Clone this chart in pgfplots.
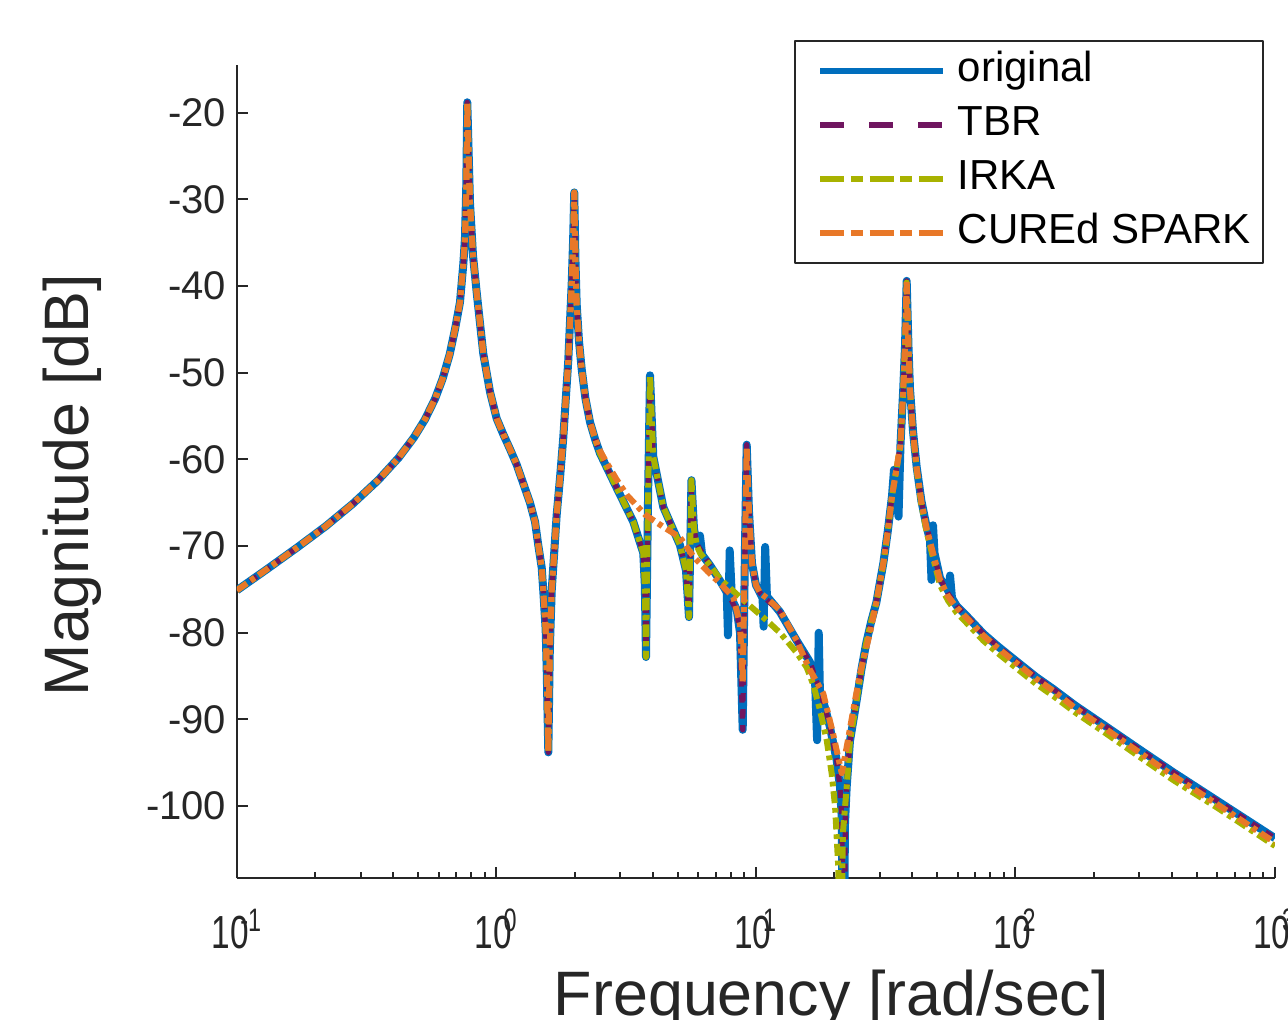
\documentclass[border=0pt]{standalone}
\usepackage{pgfplots}
\pgfplotsset{compat=1.18}
\usepackage{fontspec}
\setmainfont{Liberation Sans}
\usepackage{graphicx}
\definecolor{cOrig}{RGB}{0,110,189}
\definecolor{cTBR}{RGB}{112,22,96}
\definecolor{cIRKA}{RGB}{168,178,0}
\definecolor{cSPARK}{RGB}{232,120,40}
\definecolor{axgray}{RGB}{38,38,38}
\newcommand{\xl}[1]{\scalebox{0.72}[1]{10\kern-0.25em\textsuperscript{#1}}}
\begin{document}
\begin{tikzpicture}
\begin{axis}[
 scale only axis, width=259.5pt, height=203.25pt,
 xmode=log, xmin=0.1, xmax=1000, ymin=-108.3, ymax=-14.5,
 axis x line*=bottom, axis y line*=left,
 axis line style={axgray, line width=0.5pt},
 tick align=inside,
 major tick length=2.75pt, minor tick length=1.4pt,
 every tick/.style={axgray, line width=0.5pt},
 xtick={0.1,1,10,100,1000},
 xticklabels={\xl{-1},\xl{0},\xl{1},\xl{2},\xl{3}},
 ytick={-100,-90,-80,-70,-60,-50,-40,-30,-20},
 /pgf/number format/assume math mode=true,
 yticklabel style={font=\fontsize{10}{12}\selectfont, text=axgray, inner sep=0pt, xshift=-2.5pt},
 xticklabel style={font=\fontsize{11.6}{13}\selectfont, text=axgray, inner sep=0pt, yshift=-7.5pt},
 xlabel={Frequency [rad/sec]}, ylabel={Magnitude [dB]},
 xlabel style={at={(rel axis cs:0.5727,-0.1697)}, anchor=base, font=\fontsize{15.7}{18}\selectfont, text=axgray, inner sep=0pt},
 ylabel style={at={(rel axis cs:-0.159,0.4834)}, anchor=center, font=\fontsize{15.7}{18}\selectfont, text=axgray, inner sep=0pt},
 legend style={at={(rel axis cs:0.9894,1.0308)}, anchor=north east, draw=axgray, line width=0.5pt, fill=white,
   font=\fontsize{10.5}{12}\selectfont, inner xsep=3pt, inner ysep=2.6pt, row sep=3.7pt,
   nodes={inner sep=0pt, text height=7.6pt, text depth=2.2pt}},
 legend cell align=left,
 legend image code/.code={\path (1.4pt,0pt); \draw[#1] (4pt,0pt) -- (34.75pt,0pt); \path (37.5pt,0pt);},
 line join=round,
]
\addplot[forget plot, cOrig, line width=2pt] coordinates {
(0.1,-75.1) (0.13,-72.7) (0.17,-70.2) (0.22,-67.7) (0.28,-65.1) (0.35,-62.4) (0.42,-59.8) (0.48,-57.5) (0.53,-55.4) (0.58,-53.0) (0.62,-50.7) (0.66,-47.9) (0.692,-45.0) (0.7232,-41.9) (0.745,-37.5) (0.7561,-34.5) (0.765,-28.5) (0.7718,-18.8) (0.7905,-30.4) (0.812,-36.5) (0.8387,-40.7) (0.8894,-47.8) (0.9441,-52.2) (1.002,-55.3) (1.062,-57.1) (1.127,-58.8) (1.196,-60.6) (1.269,-62.8) (1.346,-65.0) (1.408,-67.2) (1.449,-69.9) (1.494,-72.5) (1.515,-75.2) (1.547,-79.6) (1.561,-84.0) (1.584,-93.8) (1.605,-82.0) (1.632,-75.2) (1.706,-66.4) (1.76,-61.9) (1.809,-57.5) (1.891,-48.6) (1.949,-39.8) (1.975,-34.5) (1.994,-29.2) (2.015,-37.0) (2.037,-42.1) (2.08,-46.4) (2.130,-49.6) (2.2,-52.9) (2.293,-55.7) (2.4,-57.7) (2.505,-59.3)
(2.906,-63.3) (3.367,-67.2) (3.679,-70.8) (3.73,-74.5) (3.769,-82.8) (3.836,-65.0) (3.905,-50.3) (4.020,-59.7) (4.393,-65.5) (5.095,-69.9) (5.374,-72.8) (5.518,-78.2) (5.641,-62.4) (5.768,-68.0) (5.925,-69.8) (6.084,-68.8) (6.20,-71.0) (6.647,-72.2) (7.265,-74.0) (7.712,-75.3) (7.80,-80.3) (7.92,-70.5) (8.082,-76.2) (8.425,-77.3) (8.678,-80.0) (8.888,-91.2) (9.071,-70) (9.209,-58.3) (9.397,-66) (9.652,-72.0) (10.0,-74.5) (10.36,-75.4) (10.60,-76.0) (10.70,-79.3) (10.85,-70.1) (11.02,-75.8) (12.37,-77.6) (14.35,-80.9) (16.15,-83.4) (16.88,-85.3) (17.20,-92.4) (17.45,-80.0) (17.64,-87.0) (18.12,-87.8) (18.73,-89.4) (19.28,-90.9) (20.46,-94.7) (21.07,-97.8) (21.40,-101.3) (21.70,-125) (22.03,-102) (22.36,-97.8) (23.02,-92.5) (24.43,-87.8) (25.5,-84.2) (26.6,-81.2) (27.8,-78.7) (29.1,-76.5) (30.95,-72.0) (32.2,-68.3) (33.44,-64.2) (34.03,-61.2) (35.42,-66.6) (36.05,-58.3) (36.95,-51.8) (37.52,-47) (38.08,-39.4) (38.70,-47) (39.21,-51.8) (40.3,-56.8) (41.62,-60.9) (43.4,-64.8) (45.48,-67.8) (46.83,-69.3) (47.46,-73.9) (48.10,-67.6) (48.74,-70.8) (51.19,-73.7) (55.44,-75.3) (55.94,-73.4) (56.93,-76.0) (57.70,-76.3) (59.35,-76.9) (65,-78.1) (75.12,-80.1) (85,-81.5) (98.06,-83.0) (120,-85.1) (139.9,-86.5) (170,-88.4) (217.9,-90.6) (300,-93.45) (405.6,-96.1) (600,-99.4) (1000,-103.7)
};
\addplot[forget plot, cTBR, line width=1.3pt, dash pattern=on 2pt off 2pt] coordinates {
(0.1,-75.1) (0.13,-72.7) (0.17,-70.2) (0.22,-67.7) (0.28,-65.1) (0.35,-62.4) (0.42,-59.8) (0.48,-57.5) (0.53,-55.4) (0.58,-53.0) (0.62,-50.7) (0.66,-47.9) (0.692,-45.0) (0.7232,-41.9) (0.745,-37.5) (0.7561,-34.5) (0.765,-28.5) (0.7718,-18.8) (0.7905,-30.4) (0.812,-36.5) (0.8387,-40.7) (0.8894,-47.8) (0.9441,-52.2) (1.002,-55.3) (1.062,-57.1) (1.127,-58.8) (1.196,-60.6) (1.269,-62.8) (1.346,-65.0) (1.408,-67.2) (1.449,-69.9) (1.494,-72.5) (1.515,-75.2) (1.547,-79.6) (1.561,-84.0) (1.584,-93.8) (1.605,-82.0) (1.632,-75.2) (1.706,-66.4) (1.76,-61.9) (1.809,-57.5) (1.891,-48.6) (1.949,-39.8) (1.975,-34.5) (1.994,-29.2) (2.015,-37.0) (2.037,-42.1) (2.08,-46.4) (2.130,-49.6) (2.2,-52.9) (2.293,-55.7) (2.4,-57.7) (2.505,-59.3)
(2.906,-63.3) (3.367,-67.2) (3.679,-70.8) (3.73,-74.5) (3.769,-82.8) (3.836,-65.0) (3.905,-50.3) (4.020,-59.7) (4.393,-65.5) (5.095,-69.9) (5.374,-72.8) (5.518,-78.2) (5.641,-62.4) (5.768,-68.0) (5.925,-69.8) (6.647,-72.2) (7.265,-74.0) (7.712,-75.3) (8.082,-76.4) (8.425,-77.5) (8.678,-80.0) (8.888,-91.2) (9.071,-70) (9.209,-58.3) (9.397,-66) (9.652,-72.0) (10.0,-74.5) (10.36,-75.4) (11.02,-76.2) (12.37,-77.6) (14.35,-80.9) (16.15,-83.4) (17.64,-86.7) (18.73,-89.4) (19.28,-90.9) (20.46,-94.7) (21.07,-97.8) (21.40,-101.3) (21.80,-125) (22.10,-101) (22.36,-97.8) (23.02,-92.5) (24.43,-87.8) (25.5,-84.2) (26.6,-81.2) (27.8,-78.7) (29.1,-76.5) (30.95,-72.0) (32.2,-68.3) (33.44,-64.2) (36.05,-58.3) (36.95,-51.8) (37.52,-47) (38.08,-39.4) (38.70,-47) (39.21,-51.8) (40.3,-56.8) (41.62,-60.9) (43.4,-64.8) (45.48,-67.8) (51.19,-73.7) (55.0,-75.5) (59.35,-76.9) (65,-78.1) (75.12,-80.1) (85,-81.5) (98.06,-83.0) (120,-85.1) (139.9,-86.5) (170,-88.4) (217.9,-90.6) (300,-93.45) (405.6,-96.1) (600,-99.4) (1000,-103.7)
};
\addplot[forget plot, cIRKA, line width=1.5pt, dash pattern=on 3pt off 1.2pt on 1.2pt off 1.2pt] coordinates {
(0.1,-75.1) (0.13,-72.7) (0.17,-70.2) (0.22,-67.7) (0.28,-65.1) (0.35,-62.4) (0.42,-59.8) (0.48,-57.5) (0.53,-55.4) (0.58,-53.0) (0.62,-50.7) (0.66,-47.9) (0.692,-45.0) (0.7232,-41.9) (0.745,-37.5) (0.7561,-34.5) (0.765,-28.5) (0.7718,-18.8) (0.7905,-30.4) (0.812,-36.5) (0.8387,-40.7) (0.8894,-47.8) (0.9441,-52.2) (1.002,-55.3) (1.062,-57.1) (1.127,-58.8) (1.196,-60.6) (1.269,-62.8) (1.346,-65.0) (1.408,-67.2) (1.449,-69.9) (1.494,-72.5) (1.515,-75.2) (1.547,-79.6) (1.561,-84.0) (1.584,-93.8) (1.605,-82.0) (1.632,-75.2) (1.706,-66.4) (1.76,-61.9) (1.809,-57.5) (1.891,-48.6) (1.949,-39.8) (1.975,-34.5) (1.994,-29.2) (2.015,-37.0) (2.037,-42.1) (2.08,-46.4) (2.130,-49.6) (2.2,-52.9) (2.293,-55.7) (2.4,-57.7) (2.505,-59.3)
(2.906,-63.3) (3.367,-67.2) (3.679,-70.8) (3.73,-74.5) (3.769,-82.8) (3.836,-65.0) (3.905,-50.3) (4.020,-59.7) (4.393,-65.5) (5.095,-69.9) (5.374,-72.8) (5.518,-78.2) (5.641,-62.4) (5.768,-68.0) (5.925,-70.0) (6.084,-70.8) (6.647,-72.2) (7.265,-73.8) (8.678,-75.9) (11.02,-78.6) (12.37,-80.0) (14.35,-82.3) (15.68,-84.0) (16.63,-86.0) (17.64,-88.9) (18.73,-92.4) (19.57,-96.2) (20.18,-100.1) (20.75,-107) (21.07,-125) (21.64,-103) (22.36,-97.8) (23.02,-92.5) (24.43,-87.8) (25.5,-84.2) (26.6,-81.2) (27.8,-78.7) (29.1,-76.5) (30.95,-72.0) (32.2,-68.3) (33.44,-64.2) (36.05,-58.3) (36.95,-51.8) (37.52,-47) (38.08,-39.6) (38.70,-47) (39.21,-52.0) (40.3,-57.1) (41.62,-61.2) (43.4,-65.3) (45.48,-68.4) (51.19,-74.5) (55.0,-76.3) (59.35,-77.7) (65,-78.9) (75.12,-80.9) (85,-82.3) (98.06,-83.8) (120,-85.9) (139.9,-87.3) (170,-89.2) (217.9,-91.4) (300,-94.3) (405.6,-97.0) (600,-100.2) (1000,-104.6)
};
\addplot[forget plot, cSPARK, line width=1.5pt, dash pattern=on 3pt off 1.2pt on 1.2pt off 1.2pt] coordinates {
(0.1,-75.1) (0.13,-72.7) (0.17,-70.2) (0.22,-67.7) (0.28,-65.1) (0.35,-62.4) (0.42,-59.8) (0.48,-57.5) (0.53,-55.4) (0.58,-53.0) (0.62,-50.7) (0.66,-47.9) (0.692,-45.0) (0.7232,-41.9) (0.745,-37.5) (0.7561,-34.5) (0.765,-28.5) (0.7718,-18.8) (0.7905,-30.4) (0.812,-36.5) (0.8387,-40.7) (0.8894,-47.8) (0.9441,-52.2) (1.002,-55.3) (1.062,-57.1) (1.127,-58.8) (1.196,-60.6) (1.269,-62.8) (1.346,-65.0) (1.408,-67.2) (1.449,-69.9) (1.494,-72.5) (1.515,-75.2) (1.547,-79.6) (1.561,-84.0) (1.584,-93.8) (1.605,-82.0) (1.632,-75.2) (1.706,-66.4) (1.76,-61.9) (1.809,-57.5) (1.891,-48.6) (1.949,-39.8) (1.975,-34.5) (1.994,-29.2) (2.015,-37.0) (2.037,-42.1) (2.08,-46.4) (2.130,-49.6) (2.2,-52.9) (2.293,-55.7) (2.4,-57.6) (2.505,-59.0)
(2.659,-60.4) (2.9,-62.3) (3.176,-64.1) (3.75,-66.4) (4.4,-67.8) (5.095,-69.0) (5.735,-71.2) (6.5,-72.9) (7.265,-74.3) (8.177,-75.9) (8.678,-79.0) (8.888,-85.8) (9.071,-70) (9.209,-58.5) (9.397,-66) (9.652,-72.0) (10.0,-74.5) (10.36,-75.4) (11.02,-76.0) (12.37,-77.4) (14.35,-80.9) (16.15,-84.3) (18.16,-87.0) (19.80,-91.6) (20.75,-94.4) (21.40,-96.2) (22.36,-93.2) (23.71,-88.9) (25.17,-84.7) (27.50,-80.0) (29.1,-76.5) (30.95,-72.0) (32.2,-68.3) (33.44,-64.2) (36.05,-58.3) (36.95,-51.8) (37.52,-47) (38.08,-39.5) (38.70,-47) (39.21,-51.8) (40.3,-56.9) (41.62,-61.0) (43.4,-64.9) (45.48,-68.0) (51.19,-73.9) (55.0,-75.8) (59.35,-77.1) (65,-78.3) (75.12,-80.3) (85,-81.7) (98.06,-83.2) (120,-85.3) (139.9,-86.7) (170,-88.7) (217.9,-90.9) (300,-93.8) (405.6,-96.5) (600,-99.8) (1000,-104.2)
};
\addlegendimage{cOrig, line width=1.6pt}
\addlegendentry{original}
\addlegendimage{cTBR, line width=1.5pt, dash pattern=on 6pt off 6.2pt}
\addlegendentry{TBR}
\addlegendimage{cIRKA, line width=1.5pt, dash pattern=on 6pt off 1.6pt on 3.1pt off 1.6pt}
\addlegendentry{IRKA}
\addlegendimage{cSPARK, line width=1.5pt, dash pattern=on 6pt off 1.6pt on 3.1pt off 1.6pt}
\addlegendentry{CUREd SPARK}
\coordinate (bbSW) at (rel axis cs:-0.22832,-0.173432);
\coordinate (bbNE) at (rel axis cs:1.012524,1.079951);
\end{axis}
\pgfresetboundingbox
\useasboundingbox (bbSW) rectangle (bbNE);
\end{tikzpicture}
\end{document}
